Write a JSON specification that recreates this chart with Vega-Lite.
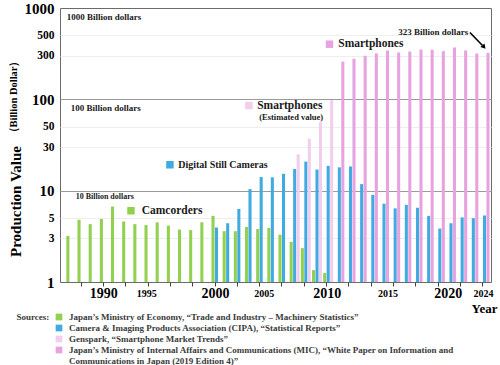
{
  "$schema": "https://vega.github.io/schema/vega-lite/v6.json",
  "background": "white",
  "padding": {"left": 7, "top": 0, "right": 0, "bottom": 0},
  "config": {
    "font": "Liberation Serif",
    "view": {"stroke": null},
    "text": {"font": "Liberation Serif", "fontWeight": "bold"}
  },
  "datasets": {
    "production": [
      {"year": 1987, "product": "Camcorders", "series": "Camcorders", "value": 3.2},
      {"year": 1988, "product": "Camcorders", "series": "Camcorders", "value": 4.8},
      {"year": 1989, "product": "Camcorders", "series": "Camcorders", "value": 4.3},
      {"year": 1990, "product": "Camcorders", "series": "Camcorders", "value": 4.9},
      {"year": 1991, "product": "Camcorders", "series": "Camcorders", "value": 6.7},
      {"year": 1992, "product": "Camcorders", "series": "Camcorders", "value": 4.6},
      {"year": 1993, "product": "Camcorders", "series": "Camcorders", "value": 4.3},
      {"year": 1994, "product": "Camcorders", "series": "Camcorders", "value": 4.2},
      {"year": 1995, "product": "Camcorders", "series": "Camcorders", "value": 4.5},
      {"year": 1996, "product": "Camcorders", "series": "Camcorders", "value": 4.15},
      {"year": 1997, "product": "Camcorders", "series": "Camcorders", "value": 3.75},
      {"year": 1998, "product": "Camcorders", "series": "Camcorders", "value": 3.7},
      {"year": 1999, "product": "Camcorders", "series": "Camcorders", "value": 4.5},
      {"year": 2000, "product": "Camcorders", "series": "Camcorders", "value": 5.3},
      {"year": 2001, "product": "Camcorders", "series": "Camcorders", "value": 3.6},
      {"year": 2002, "product": "Camcorders", "series": "Camcorders", "value": 3.6},
      {"year": 2003, "product": "Camcorders", "series": "Camcorders", "value": 4.0},
      {"year": 2004, "product": "Camcorders", "series": "Camcorders", "value": 3.8},
      {"year": 2005, "product": "Camcorders", "series": "Camcorders", "value": 3.9},
      {"year": 2006, "product": "Camcorders", "series": "Camcorders", "value": 3.3},
      {"year": 2007, "product": "Camcorders", "series": "Camcorders", "value": 2.75},
      {"year": 2008, "product": "Camcorders", "series": "Camcorders", "value": 2.35},
      {"year": 2009, "product": "Camcorders", "series": "Camcorders", "value": 1.35},
      {"year": 2010, "product": "Camcorders", "series": "Camcorders", "value": 1.26},
      {"year": 2000, "product": "Digital Still Cameras", "series": "Digital Still Cameras", "value": 3.95},
      {"year": 2001, "product": "Digital Still Cameras", "series": "Digital Still Cameras", "value": 4.4},
      {"year": 2002, "product": "Digital Still Cameras", "series": "Digital Still Cameras", "value": 6.3},
      {"year": 2003, "product": "Digital Still Cameras", "series": "Digital Still Cameras", "value": 10.4},
      {"year": 2004, "product": "Digital Still Cameras", "series": "Digital Still Cameras", "value": 14.1},
      {"year": 2005, "product": "Digital Still Cameras", "series": "Digital Still Cameras", "value": 14.0},
      {"year": 2006, "product": "Digital Still Cameras", "series": "Digital Still Cameras", "value": 15.3},
      {"year": 2007, "product": "Digital Still Cameras", "series": "Digital Still Cameras", "value": 17.3},
      {"year": 2008, "product": "Digital Still Cameras", "series": "Digital Still Cameras", "value": 20.8},
      {"year": 2009, "product": "Digital Still Cameras", "series": "Digital Still Cameras", "value": 17.1},
      {"year": 2010, "product": "Digital Still Cameras", "series": "Digital Still Cameras", "value": 18.7},
      {"year": 2011, "product": "Digital Still Cameras", "series": "Digital Still Cameras", "value": 18.0},
      {"year": 2012, "product": "Digital Still Cameras", "series": "Digital Still Cameras", "value": 18.4},
      {"year": 2013, "product": "Digital Still Cameras", "series": "Digital Still Cameras", "value": 11.8},
      {"year": 2014, "product": "Digital Still Cameras", "series": "Digital Still Cameras", "value": 9.0},
      {"year": 2015, "product": "Digital Still Cameras", "series": "Digital Still Cameras", "value": 7.2},
      {"year": 2016, "product": "Digital Still Cameras", "series": "Digital Still Cameras", "value": 6.4},
      {"year": 2017, "product": "Digital Still Cameras", "series": "Digital Still Cameras", "value": 7.0},
      {"year": 2018, "product": "Digital Still Cameras", "series": "Digital Still Cameras", "value": 6.5},
      {"year": 2019, "product": "Digital Still Cameras", "series": "Digital Still Cameras", "value": 5.3},
      {"year": 2020, "product": "Digital Still Cameras", "series": "Digital Still Cameras", "value": 3.85},
      {"year": 2021, "product": "Digital Still Cameras", "series": "Digital Still Cameras", "value": 4.4},
      {"year": 2022, "product": "Digital Still Cameras", "series": "Digital Still Cameras", "value": 5.1},
      {"year": 2023, "product": "Digital Still Cameras", "series": "Digital Still Cameras", "value": 5.0},
      {"year": 2024, "product": "Digital Still Cameras", "series": "Digital Still Cameras", "value": 5.35},
      {"year": 2007, "product": "Smartphones", "series": "Smartphones (Estimated value)", "value": 25},
      {"year": 2008, "product": "Smartphones", "series": "Smartphones (Estimated value)", "value": 37},
      {"year": 2009, "product": "Smartphones", "series": "Smartphones (Estimated value)", "value": 56},
      {"year": 2010, "product": "Smartphones", "series": "Smartphones (Estimated value)", "value": 98},
      {"year": 2011, "product": "Smartphones", "series": "Smartphones", "value": 259},
      {"year": 2012, "product": "Smartphones", "series": "Smartphones", "value": 278},
      {"year": 2013, "product": "Smartphones", "series": "Smartphones", "value": 300},
      {"year": 2014, "product": "Smartphones", "series": "Smartphones", "value": 318},
      {"year": 2015, "product": "Smartphones", "series": "Smartphones", "value": 343},
      {"year": 2016, "product": "Smartphones", "series": "Smartphones", "value": 326},
      {"year": 2017, "product": "Smartphones", "series": "Smartphones", "value": 334},
      {"year": 2018, "product": "Smartphones", "series": "Smartphones", "value": 351},
      {"year": 2019, "product": "Smartphones", "series": "Smartphones", "value": 349},
      {"year": 2020, "product": "Smartphones", "series": "Smartphones", "value": 337},
      {"year": 2021, "product": "Smartphones", "series": "Smartphones", "value": 370},
      {"year": 2022, "product": "Smartphones", "series": "Smartphones", "value": 343},
      {"year": 2023, "product": "Smartphones", "series": "Smartphones", "value": 318},
      {"year": 2024, "product": "Smartphones", "series": "Smartphones", "value": 323}
    ],
    "sources": [
      {"line": 1, "series": "Camcorders", "text": "Japan’s Ministry of Economy, “Trade and Industry – Machinery Statistics”"},
      {"line": 2, "series": "Digital Still Cameras", "text": "Camera & Imaging Products Association (CIPA),  “Statistical Reports”"},
      {"line": 3, "series": "Smartphones (Estimated value)", "text": "Genspark, “Smartphone Market Trends”"},
      {"line": 4, "series": "Smartphones", "text": "Japan’s  Ministry of Internal Affairs and Communications (MIC), “White Paper on Information and"},
      {"line": 5, "series": null, "text": "Communications in Japan (2019 Edition 4)”"}
    ]
  },
  "bounds": "flush",
  "spacing": 35,
  "vconcat": [
    {
      "width": 431,
      "height": 274,
      "view": {"stroke": "#6b6b6b", "strokeWidth": 1},
      "resolve": {"axis": {"y": "independent"}},
      "layer": [
        {
          "data": {"name": "production"},
          "mark": {"type": "bar", "clip": false},
          "encoding": {
            "x": {
              "field": "year", "type": "ordinal",
              "scale": {"domain": [1987,1988,1989,1990,1991,1992,1993,1994,1995,1996,1997,1998,1999,2000,2001,2002,2003,2004,2005,2006,2007,2008,2009,2010,2011,2012,2013,2014,2015,2016,2017,2018,2019,2020,2021,2022,2023,2024], "paddingInner": 0.1, "paddingOuter": 0.35, "align": 0.81},
              "axis": {
                "values": [1988,1990,1992,1994,1995,1996,1998,2000,2002,2004,2005,2006,2008,2010,2012,2014,2015,2016,2018,2020,2022,2024],
                "bandPosition": 0.35,
                "labelExpr": "indexof([1990,1995,2000,2005,2010,2015,2020,2024], datum.value) >= 0 ? datum.label : ''",
                "ticks": true,
                "tickColor": {"condition": {"test": "datum.value == 1995 || datum.value == 2005 || datum.value == 2015", "value": "transparent"}, "value": "#404040"},
                "tickWidth": 1,
                "tickSize": 4, "domain": false, "grid": false,
                "labelAngle": 0, "labelBaseline": "middle", "labelPadding": 7.5,
                "labelFont": "Liberation Serif", "labelFontWeight": "bold", "labelColor": "#000000",
                "labelFontSize": {"condition": {"test": "datum.value % 10 == 0", "value": 14}, "value": 10},
                "labelOffset": {"condition": [
                  {"test": "datum.value == 1995", "value": -14},
                  {"test": "datum.value == 2005", "value": -8},
                  {"test": "datum.value == 2015", "value": 4},
                  {"test": "datum.value == 2020", "value": 8.5}
                ], "value": -1},
                "labelOverlap": false,
                "title": "Year", "titleFont": "Liberation Serif", "titleFontSize": 13, "titleFontWeight": "bold", "titleColor": "#000000",
                "titleX": 424, "titleY": 26, "titleAlign": "center", "titleBaseline": "middle"
              }
            },
            "xOffset": {"field": "product", "type": "nominal", "scale": {"domain": ["Camcorders", "Digital Still Cameras", "Smartphones"], "paddingInner": 0.12}},
            "y": {
              "field": "value", "type": "quantitative",
              "scale": {"type": "log", "domain": [1, 1000]},
              "axis": {
                "orient": "left",
                "values": [1,3,5,10,30,50,100,300,500,1000],
                "format": "d",
                "ticks": false, "domain": false, "labelPadding": 6, "labelOverlap": false,
                "labelFont": "Liberation Serif", "labelFontWeight": "bold", "labelColor": "#000000",
                "labelFontSize": {"condition": {"test": "indexof([1,10,100,1000], datum.value) >= 0", "value": 15}, "value": 11.5},
                "grid": true,
                "gridColor": {"condition": {"test": "datum.value == 10 || datum.value == 100", "value": "#9a9a9a"}, "value": "#eeeeee"},
                "gridOpacity": {"condition": {"test": "datum.value == 1 || datum.value == 1000", "value": 0}, "value": 1},
                "title": "Production Value",
                "titleFont": "Liberation Serif", "titleFontSize": 15, "titleFontWeight": "bold", "titleColor": "#000000",
                "titleX": -45, "titleY": 193, "titleAngle": -90, "titleAlign": "center", "titleBaseline": "middle"
              }
            },
            "y2": {"datum": 1},
            "color": {
              "field": "series", "type": "nominal",
              "scale": {"domain": ["Camcorders", "Digital Still Cameras", "Smartphones (Estimated value)", "Smartphones"], "range": ["#92d050", "#3fabe0", "#f3cdee", "#e8a2e0"]},
              "legend": null
            }
          }
        },
        {
          "data": {"values": [{}]},
          "mark": {"type": "text", "text": "1000 Billion dollars", "align": "left", "baseline": "middle", "dx": -4.7, "dy": 9.2, "fontSize": 9, "color": "#1a1a1a"},
          "encoding": {"x": {"datum": 1987, "type": "ordinal"}, "y": {"datum": 1000, "type": "quantitative", "axis": null}}
        },
        {
          "data": {"values": [{}]},
          "mark": {"type": "text", "text": "100 Billion dollars", "align": "left", "baseline": "middle", "dx": -0.7, "dy": 8.2, "fontSize": 9, "color": "#1a1a1a"},
          "encoding": {
            "x": {"datum": 1987, "type": "ordinal"},
            "y": {"datum": 100, "type": "quantitative", "axis": {
              "orient": "left", "labels": false, "ticks": false, "domain": false, "grid": false,
              "title": "（Billion Dollar）", "titleFont": "Liberation Serif", "titleFontSize": 10.5, "titleFontWeight": "bold", "titleColor": "#000000",
              "titleX": -47, "titleY": 88.5, "titleAngle": -90, "titleAlign": "center", "titleBaseline": "middle"
            }}
          }
        },
        {
          "data": {"values": [{}]},
          "mark": {"type": "text", "text": "10 Billion dollars", "align": "left", "baseline": "middle", "dx": 4.3, "dy": 6.8, "fontSize": 8, "color": "#1a1a1a"},
          "encoding": {"x": {"datum": 1987, "type": "ordinal"}, "y": {"datum": 10, "type": "quantitative", "axis": null}}
        },
        {
          "data": {"values": [{}]},
          "mark": {"type": "point", "shape": "square", "filled": true, "opacity": 1, "size": 56, "color": "#92d050", "xOffset": 3.8, "yOffset": 20.1},
          "encoding": {"x": {"datum": 1992, "type": "ordinal"}, "y": {"datum": 10, "type": "quantitative", "axis": null}}
        },
        {
          "data": {"values": [{}]},
          "mark": {"type": "text", "text": "Camcorders", "align": "left", "baseline": "middle", "dx": 14.5, "dy": 20, "fontSize": 11.5, "color": "#1a1a1a"},
          "encoding": {"x": {"datum": 1992, "type": "ordinal"}, "y": {"datum": 10, "type": "quantitative", "axis": null}}
        },
        {
          "data": {"values": [{}]},
          "mark": {"type": "point", "shape": "square", "filled": true, "opacity": 1, "size": 56, "color": "#3fabe0", "xOffset": -1.9, "yOffset": -25.9},
          "encoding": {"x": {"datum": 1996, "type": "ordinal"}, "y": {"datum": 10, "type": "quantitative", "axis": null}}
        },
        {
          "data": {"values": [{}]},
          "mark": {"type": "text", "text": "Digital Still Cameras", "align": "left", "baseline": "middle", "dx": 6.4, "dy": -25.9, "fontSize": 10, "color": "#1a1a1a"},
          "encoding": {"x": {"datum": 1996, "type": "ordinal"}, "y": {"datum": 10, "type": "quantitative", "axis": null}}
        },
        {
          "data": {"values": [{}]},
          "mark": {"type": "point", "shape": "square", "filled": true, "opacity": 1, "size": 56, "color": "#f3cdee", "xOffset": -1.1, "yOffset": 6.2},
          "encoding": {"x": {"datum": 2003, "type": "ordinal"}, "y": {"datum": 100, "type": "quantitative", "axis": null}}
        },
        {
          "data": {"values": [{}]},
          "mark": {"type": "text", "text": "Smartphones", "align": "left", "baseline": "middle", "dx": 7.2, "dy": 6.2, "fontSize": 11.5, "color": "#1a1a1a"},
          "encoding": {"x": {"datum": 2003, "type": "ordinal"}, "y": {"datum": 100, "type": "quantitative", "axis": null}}
        },
        {
          "data": {"values": [{}]},
          "mark": {"type": "text", "text": "(Estimated value)", "align": "left", "baseline": "middle", "dx": 9.2, "dy": 17.2, "fontSize": 8.5, "color": "#1a1a1a"},
          "encoding": {"x": {"datum": 2003, "type": "ordinal"}, "y": {"datum": 100, "type": "quantitative", "axis": null}}
        },
        {
          "data": {"values": [{}]},
          "mark": {"type": "point", "shape": "square", "filled": true, "opacity": 1, "size": 56, "color": "#e8a2e0", "xOffset": 1.3, "yOffset": 36.2},
          "encoding": {"x": {"datum": 2010, "type": "ordinal"}, "y": {"datum": 1000, "type": "quantitative", "axis": null}}
        },
        {
          "data": {"values": [{}]},
          "mark": {"type": "text", "text": "Smartphones", "align": "left", "baseline": "middle", "dx": 10.1, "dy": 36.2, "fontSize": 11.5, "color": "#1a1a1a"},
          "encoding": {"x": {"datum": 2010, "type": "ordinal"}, "y": {"datum": 1000, "type": "quantitative", "axis": null}}
        },
        {
          "data": {"values": [{}]},
          "mark": {"type": "text", "text": "323 Billion dollars", "align": "right", "baseline": "middle", "dx": -5.1, "dy": 23.5, "fontSize": 9, "color": "#1a1a1a"},
          "encoding": {"x": {"datum": 2023, "type": "ordinal"}, "y": {"datum": 1000, "type": "quantitative", "axis": null}}
        },
        {
          "data": {"values": [{}]},
          "mark": {"type": "rule", "color": "#000000", "strokeWidth": 1.6, "xOffset": -3.4, "x2Offset": -2, "yOffset": 24.5, "y2Offset": 37.5},
          "encoding": {
            "x": {"datum": 2023, "type": "ordinal"},
            "x2": {"datum": 2024},
            "y": {"datum": 1000, "type": "quantitative", "axis": null},
            "y2": {"datum": 1000}
          }
        },
        {
          "data": {"values": [{}]},
          "mark": {"type": "point", "shape": "triangle-up", "filled": true, "opacity": 1, "size": 30, "color": "#000000", "angle": 138.5, "xOffset": -0.5, "yOffset": 39},
          "encoding": {"x": {"datum": 2024, "type": "ordinal"}, "y": {"datum": 1000, "type": "quantitative", "axis": null}}
        }
      ]
    },
    {
      "width": 431,
      "height": 44,
      "view": {"stroke": null},
      "data": {"name": "sources"},
      "layer": [
        {
          "mark": {"type": "text", "align": "left", "baseline": "middle", "dx": 9, "fontSize": 9, "color": "#3a3a3a"},
          "encoding": {
            "x": {"datum": 0, "type": "quantitative", "scale": {"domain": [0, 1]}, "axis": null},
            "y": {"field": "line", "type": "ordinal", "scale": {"type": "point", "padding": 0, "domain": [1,2,3,4,5]}, "axis": null},
            "text": {"field": "text"}
          }
        },
        {
          "transform": [{"filter": "datum.series != null"}],
          "mark": {"type": "point", "shape": "square", "filled": true, "opacity": 1, "size": 45, "xOffset": -1},
          "encoding": {
            "x": {"datum": 0, "type": "quantitative"},
            "y": {"field": "line", "type": "ordinal"},
            "color": {
              "field": "series", "type": "nominal",
              "scale": {"domain": ["Camcorders", "Digital Still Cameras", "Smartphones (Estimated value)", "Smartphones"], "range": ["#92d050", "#3fabe0", "#f3cdee", "#e8a2e0"]},
              "legend": null
            }
          }
        },
        {
          "transform": [{"filter": "datum.line == 1"}],
          "mark": {"type": "text", "text": "Sources:", "align": "right", "baseline": "middle", "dx": -10.7, "fontSize": 9, "color": "#3a3a3a"},
          "encoding": {
            "x": {"datum": 0, "type": "quantitative"},
            "y": {"field": "line", "type": "ordinal"}
          }
        }
      ]
    }
  ]
}
